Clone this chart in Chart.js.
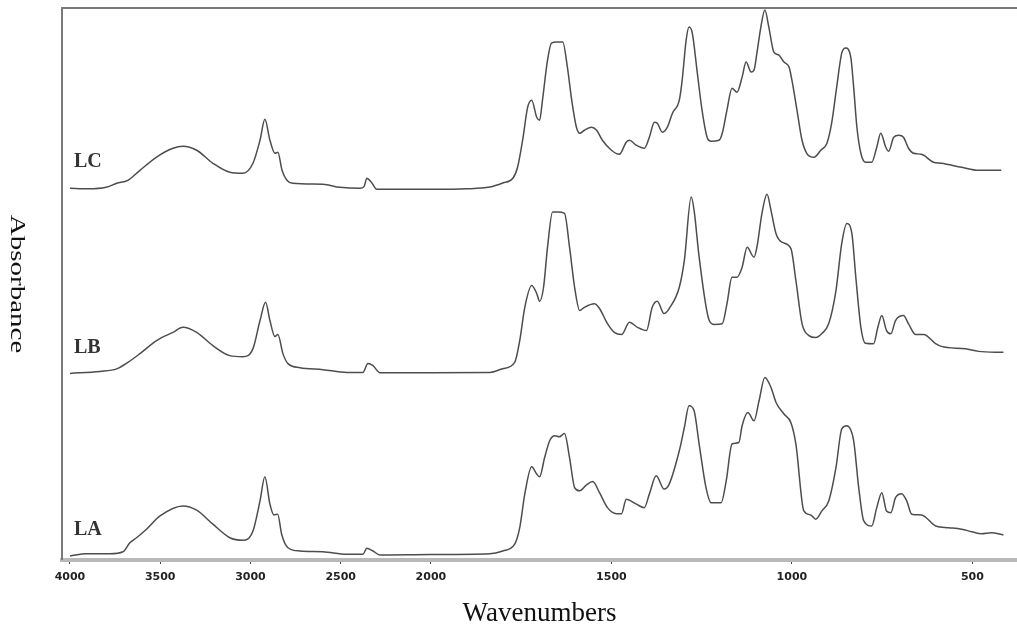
<!DOCTYPE html>
<html><head><meta charset="utf-8">
<script src="https://cdn.jsdelivr.net/npm/chart.js@4.4.1/dist/chart.umd.min.js"></script>
<style>html,body{margin:0;padding:0;background:#fff;}#wrap{width:1017px;height:624px;position:relative;}</style>
</head><body><div id="wrap"><canvas id="c"></canvas></div>
<script>
const seriesNames = ['LA', 'LB', 'LC'];

const wnLA = [4000,3908,3778,3706,3668,3631,3576,3501,3374,3298,3208,3114,3042,2986,2947,2920,2892,2870,2849,2827,2792,2726,2598,2465,2377,2355,2321,2283,2000,1837,1801,1768,1754,1740,1721,1707,1699,1685,1671,1657,1644,1630,1616,1602,1588,1569,1552,1533,1511,1486,1472,1459,1431,1409,1395,1376,1354,1340,1312,1298,1285,1271,1257,1238,1224,1196,1182,1166,1147,1138,1122,1105,1091,1075,1058,1044,1022,1003,989,967,948,934,917,898,878,862,848,829,815,801,779,765,751,738,726,713,696,682,668,641,602,566,530,502,475,448,414];
const absLA = [0.016,0.025,0.025,0.033,0.069,0.089,0.123,0.176,0.216,0.199,0.143,0.089,0.079,0.116,0.236,0.332,0.223,0.180,0.183,0.103,0.049,0.036,0.033,0.023,0.023,0.047,0.036,0.020,0.022,0.025,0.036,0.063,0.129,0.263,0.372,0.343,0.332,0.409,0.476,0.496,0.492,0.505,0.409,0.289,0.276,0.300,0.313,0.269,0.209,0.185,0.185,0.243,0.223,0.209,0.263,0.336,0.283,0.303,0.436,0.529,0.616,0.596,0.463,0.289,0.229,0.229,0.316,0.463,0.469,0.536,0.589,0.556,0.636,0.729,0.689,0.629,0.583,0.549,0.463,0.196,0.180,0.163,0.196,0.236,0.369,0.523,0.536,0.476,0.289,0.156,0.136,0.209,0.269,0.196,0.189,0.249,0.265,0.236,0.183,0.180,0.136,0.129,0.123,0.113,0.105,0.109,0.100];

const wnLB = [4000,3834,3741,3679,3612,3520,3429,3374,3298,3208,3114,3042,2986,2947,2916,2892,2864,2848,2820,2792,2726,2598,2465,2377,2349,2321,2283,2000,1837,1801,1768,1754,1740,1721,1707,1699,1688,1677,1663,1649,1630,1616,1602,1588,1575,1547,1533,1511,1492,1472,1450,1428,1403,1387,1373,1354,1340,1312,1298,1279,1271,1257,1229,1215,1193,1180,1166,1152,1138,1124,1105,1097,1083,1069,1058,1044,1028,1003,989,972,953,934,917,898,878,862,848,834,823,809,796,774,762,751,738,726,713,691,677,657,635,602,586,519,483,414];
const absLB = [0.745,0.753,0.763,0.789,0.824,0.876,0.909,0.929,0.909,0.856,0.816,0.812,0.844,0.956,1.029,0.956,0.892,0.900,0.824,0.784,0.768,0.760,0.749,0.749,0.785,0.776,0.748,0.748,0.749,0.764,0.789,0.876,1.009,1.096,1.064,1.033,1.089,1.249,1.389,1.389,1.384,1.249,1.089,0.996,1.009,1.023,1.004,0.944,0.909,0.900,0.949,0.929,0.916,1.009,1.033,0.984,1.004,1.089,1.196,1.449,1.396,1.209,0.956,0.940,0.943,1.023,1.129,1.129,1.169,1.249,1.209,1.249,1.384,1.460,1.396,1.303,1.269,1.244,1.116,0.944,0.896,0.888,0.904,0.944,1.076,1.264,1.344,1.304,1.129,0.929,0.865,0.863,0.929,0.976,0.916,0.903,0.956,0.976,0.943,0.900,0.900,0.864,0.853,0.843,0.833,0.829];

const wnLC = [4000,3900,3800,3741,3679,3612,3520,3429,3374,3298,3208,3114,3042,2986,2947,2920,2892,2864,2848,2825,2798,2765,2598,2504,2393,2370,2355,2330,2300,2000,1900,1837,1801,1773,1760,1746,1732,1721,1707,1699,1691,1677,1666,1652,1635,1622,1610,1597,1588,1575,1555,1541,1525,1500,1478,1459,1450,1431,1409,1395,1381,1373,1359,1345,1331,1312,1304,1293,1285,1276,1262,1249,1235,1224,1202,1193,1180,1166,1152,1138,1127,1113,1105,1097,1086,1075,1064,1050,1036,1022,1008,1000,986,972,959,939,920,903,890,876,862,851,837,829,820,809,796,779,765,754,740,732,718,704,691,677,663,641,608,586,530,483,420];
const absLC = [1.484,1.482,1.488,1.504,1.516,1.556,1.609,1.644,1.652,1.636,1.584,1.548,1.544,1.584,1.676,1.760,1.676,1.624,1.628,1.556,1.516,1.504,1.500,1.488,1.484,1.492,1.524,1.508,1.480,1.480,1.482,1.489,1.505,1.524,1.568,1.676,1.808,1.836,1.768,1.756,1.836,1.996,2.064,2.068,2.068,1.968,1.836,1.728,1.704,1.716,1.728,1.716,1.676,1.636,1.620,1.668,1.676,1.656,1.644,1.688,1.748,1.744,1.708,1.728,1.784,1.836,1.916,2.076,2.128,2.104,1.944,1.796,1.688,1.672,1.676,1.704,1.796,1.884,1.868,1.928,1.988,1.948,1.956,2.024,2.128,2.196,2.128,2.028,2.016,1.988,1.968,1.916,1.796,1.676,1.624,1.608,1.636,1.664,1.744,1.888,2.024,2.044,2.008,1.888,1.728,1.624,1.588,1.588,1.648,1.704,1.648,1.632,1.688,1.696,1.688,1.644,1.624,1.620,1.588,1.584,1.568,1.556,1.556];

const tickWavenumbers = [4000, 3500, 3000, 2500, 2000, 1500, 1000, 500];
const xTitle = 'Wavenumbers';
const yTitle = 'Absorbance';

// Wavenumber axis: below 2000 cm-1 the scale is expanded two-fold
function toT(v) { return v >= 2000 ? 4000 - v : 2000 + (2000 - v) * 2; }
function fromT(t) { return t <= 2000 ? 4000 - t : 2000 - (t - 2000) / 2; }

const series = [
  { name: seriesNames[0], wn: wnLA, abs: absLA },
  { name: seriesNames[1], wn: wnLB, abs: absLB },
  { name: seriesNames[2], wn: wnLC, abs: absLC }
];

const frame = {
  id: 'frame',
  afterDatasetsDraw(chart) {
    const { ctx, chartArea: a } = chart;
    ctx.save();
    ctx.strokeStyle = '#7a7a7a';
    ctx.lineWidth = 2;
    ctx.beginPath();
    ctx.moveTo(a.left, a.bottom);
    ctx.lineTo(a.left, a.top);
    ctx.lineTo(a.right, a.top);
    ctx.stroke();
    // series names
    ctx.fillStyle = '#333';
    ctx.font = 'bold 20px "Liberation Serif"';
    ctx.textBaseline = 'middle';
    ctx.textAlign = 'left';
    chart.data.datasets.forEach((ds, i) => {
      const first = chart.getDatasetMeta(i).data[0];
      ctx.fillText(ds.label, a.left + 12, first.y - 26);
    });
    // y title, reading top to bottom
    ctx.translate(a.left - 46, (a.top + a.bottom) / 2);
    ctx.rotate(Math.PI / 2);
    ctx.scale(1.45, 1);
    ctx.fillStyle = '#111';
    ctx.font = '20px "Liberation Serif"';
    ctx.textAlign = 'center';
    ctx.fillText(chart.options.scales.y.title.text, 0, 0);
    ctx.restore();
  }
};

new Chart(document.getElementById('c'), {
  type: 'line',
  data: {
    datasets: series.map(s => ({
      label: s.name,
      data: s.wn.map((v, i) => ({ x: toT(v), y: s.abs[i] })),
      borderColor: '#4d4d4d',
      borderWidth: 1.5,
      pointRadius: 0,
      cubicInterpolationMode: 'monotone',
      fill: false
    }))
  },
  options: {
    responsive: true,
    maintainAspectRatio: false,
    animation: false,
    layout: { padding: { left: 62, top: 8, right: 0, bottom: 0 } },
    plugins: { legend: { display: false }, tooltip: { enabled: false } },
    scales: {
      x: {
        type: 'linear',
        min: -44,
        max: 5247,
        afterBuildTicks(scale) { scale.ticks = tickWavenumbers.map(v => ({ value: toT(v) })); },
        ticks: {
          callback: (t) => String(Math.round(fromT(t))),
          color: '#222',
          font: { family: '"DejaVu Sans"', weight: 'bold', size: 11 },
          padding: 7,
          maxRotation: 0,
          autoSkip: false
        },
        grid: { display: true, drawOnChartArea: false, drawTicks: true, tickLength: 4, color: '#444', lineWidth: 1 },
        border: { display: true, color: '#b9b9b9', width: 4 },
        title: {
          display: true,
          text: xTitle,
          color: '#111',
          font: { family: '"Liberation Serif"', size: 27, lineHeight: 1 },
          padding: { top: 8.8, bottom: -3 }
        }
      },
      y: {
        display: false,
        min: 0,
        max: 2.204,
        title: { display: false, text: yTitle }
      }
    }
  },
  plugins: [frame]
});
</script>
</body></html>
